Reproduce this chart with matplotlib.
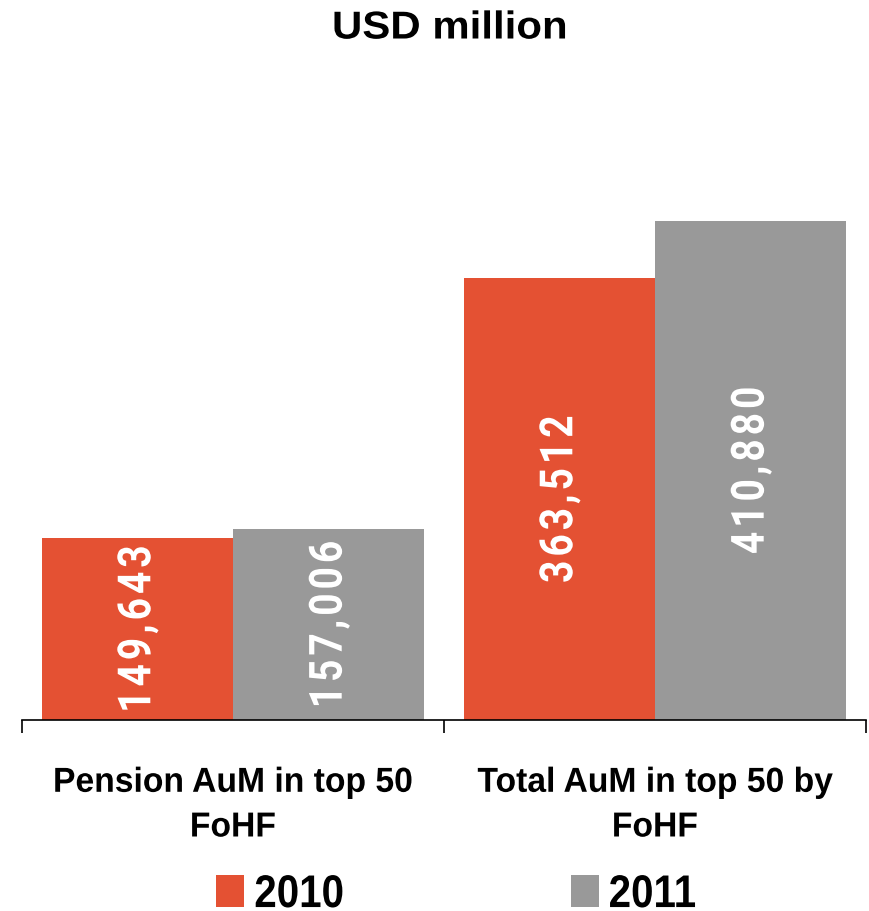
import matplotlib
matplotlib.use("Agg")
import matplotlib.pyplot as plt
import numpy as np
from matplotlib.patches import Patch
from matplotlib.patheffects import AbstractPathEffect
from matplotlib.transforms import Affine2D

categories = ["Pension AuM in top 50\nFoHF", "Total AuM in top 50 by\nFoHF"]
series_names = ["2010", "2011"]
values_2010 = [149643, 363512]
values_2011 = [157006, 410880]
colors = ["#E45133", "#999999"]


class Narrow(AbstractPathEffect):
    """Scale glyphs horizontally around their own centre."""
    def __init__(self, sx=0.82):
        super().__init__()
        self.sx = sx

    def draw_path(self, renderer, gc, tpath, affine, rgbFace=None):
        v = tpath.vertices
        cx = (v[:, 0].min() + v[:, 0].max()) / 2 if len(v) else 0
        t = Affine2D().translate(-cx, 0).scale(self.sx, 1).translate(cx, 0) + affine
        renderer.draw_path(gc, tpath, t, rgbFace)


font = ["Liberation Sans", "DejaVu Sans"]

fig = plt.figure(figsize=(8.7, 9.11), dpi=100)
ax = fig.add_axes([0.0253, 0.2097, 0.9701, 0.60])

x = np.arange(len(categories))
w = 0.4535
bars1 = ax.bar(x - w / 2, values_2010, w, color=colors[0], label=series_names[0])
bars2 = ax.bar(x + w / 2, values_2011, w, color=colors[1], label=series_names[1])

for bars in (bars1, bars2):
    for b in bars:
        h = b.get_height()
        label = "\u200a".join(f"{int(h):,}")
        ax.text(b.get_x() + b.get_width() / 2, h / 2, label,
                rotation=90, ha="center", va="center", color="white",
                fontsize=33, fontweight="bold", family=["Roboto", "DejaVu Sans"],
                path_effects=[Narrow(0.85)])

ax.set_xlim(-0.5, 1.5)
ax.set_ylim(0, 450000)
for s in ("left", "right", "top"):
    ax.spines[s].set_visible(False)
ax.spines["bottom"].set_linewidth(1.2)
ax.set_yticks([])
ax.set_xticks(x)
ax.set_xticklabels(categories, fontsize=25, fontweight="bold", family=font, linespacing=1.45)
for lbl in ax.get_xticklabels():
    lbl.set_path_effects([Narrow(0.97)])
ax.tick_params(axis="x", which="major", length=0, pad=33)
ax.set_xticks([-0.5, 0.5, 1.5], minor=True)
ax.tick_params(axis="x", which="minor", length=9, width=1.2, direction="out")

fig.text(0.517, 0.9687, "USD million", ha="center", va="center", fontsize=28,
         fontweight="bold", family=font, path_effects=[Narrow(1.08)])

handles = [Patch(facecolor=colors[0]), Patch(facecolor=colors[1])]
leg = fig.legend(handles, series_names, loc="center", bbox_to_anchor=(0.528, 0.0175),
                 ncol=2, frameon=False, handlelength=0.61, handleheight=0.7,
                 handletextpad=0.09, columnspacing=4.8,
                 prop={"family": font, "weight": "bold", "size": 33})
for t in leg.get_texts():
    t.set_path_effects([Narrow(0.88)])

fig.savefig("out.png", dpi=100)
